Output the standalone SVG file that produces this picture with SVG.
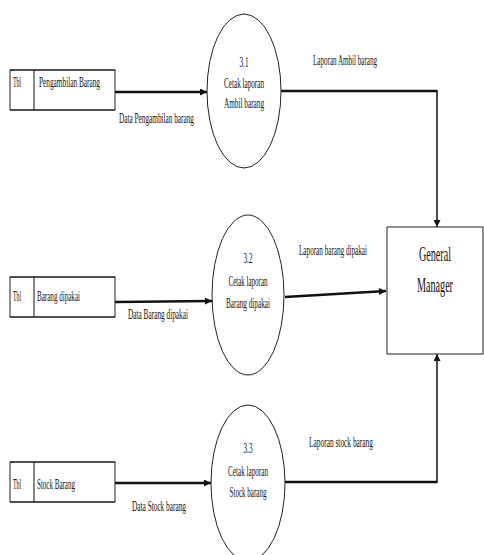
<svg xmlns="http://www.w3.org/2000/svg" width="484" height="555" viewBox="0 0 484 555">
<defs>
<style>
text{font-family:"Liberation Serif","Times New Roman",serif;fill:#111;}
.t{font-size:14px;}
.e{font-size:15px;text-anchor:middle;}
.gm{font-size:20px;}
.proc{fill:#fff;stroke:#222;stroke-width:1;}
.store{fill:#fff;stroke:#222;stroke-width:1;}
.edge{stroke:#111;stroke-width:1;}
.flow{stroke:#111;stroke-width:2.4;fill:none;}
.vflow{stroke:#111;stroke-width:1.5;fill:none;}
</style>
<marker id="ah" viewBox="0 0 10 10" refX="10" refY="5" markerWidth="9" markerHeight="7" markerUnits="userSpaceOnUse" orient="auto">
<path d="M0,0 L10,5 L0,10 z" fill="#111"/>
</marker>
</defs>
<rect width="484" height="555" fill="#fff"/>

<g id="connectors">
<line class="flow" x1="115" y1="92" x2="207" y2="92" marker-end="url(#ah)"/>
<line class="flow" x1="115" y1="302" x2="212" y2="301" marker-end="url(#ah)"/>
<line class="flow" x1="115" y1="483" x2="211" y2="483" marker-end="url(#ah)"/>
<polyline class="flow" points="281,91 437,91"/>
<line class="vflow" x1="437" y1="90" x2="437" y2="227" marker-end="url(#ah)"/>
<line class="flow" x1="285" y1="297" x2="386" y2="291" marker-end="url(#ah)"/>
<polyline class="flow" points="285,482 437,482"/>
<line class="vflow" x1="437" y1="483" x2="437" y2="354" marker-end="url(#ah)"/>
<text class="t" x="313" y="65" textLength="64" lengthAdjust="spacingAndGlyphs">Laporan Ambil barang</text>
<text class="t" transform="translate(299,255) scale(0.5,1)" x="0" y="0" textLength="136" lengthAdjust="spacingAndGlyphs">Laporan barang dipakai</text>
<text class="t" x="309" y="447" textLength="64" lengthAdjust="spacingAndGlyphs">Laporan stock  barang</text>
<text class="t" x="119" y="123" textLength="75" lengthAdjust="spacingAndGlyphs">Data Pengambilan barang</text>
<text class="t" x="128" y="319" textLength="60" lengthAdjust="spacingAndGlyphs">Data Barang dipakai</text>
<text class="t" x="132" y="511" textLength="54" lengthAdjust="spacingAndGlyphs">Data Stock barang</text>
</g>

<g id="store1">
<rect class="store" x="10" y="70" width="105" height="40"/>
<line class="edge" x1="10" y1="70" x2="115" y2="70" stroke-width="2"/>
<line class="edge" x1="10" y1="110" x2="115" y2="110" stroke-width="2"/>
<line class="edge" x1="34" y1="70" x2="34" y2="110"/>
<text class="t" x="13" y="87" textLength="8" lengthAdjust="spacingAndGlyphs">Tbl</text>
<text class="t" x="39" y="87" textLength="61" lengthAdjust="spacingAndGlyphs">Pengambilan  Barang</text>
</g>

<g id="store2">
<rect class="store" x="10" y="277" width="105" height="40"/>
<line class="edge" x1="10" y1="277" x2="115" y2="277" stroke-width="2"/>
<line class="edge" x1="10" y1="317" x2="115" y2="317" stroke-width="2"/>
<line class="edge" x1="34" y1="277" x2="34" y2="317"/>
<text class="t" x="13" y="301" textLength="8" lengthAdjust="spacingAndGlyphs">Tbl</text>
<text class="t" x="37" y="301" textLength="43" lengthAdjust="spacingAndGlyphs">Barang dipakai</text>
</g>

<g id="store3">
<rect class="store" x="10" y="462" width="105" height="40"/>
<line class="edge" x1="10" y1="462" x2="115" y2="462" stroke-width="2"/>
<line class="edge" x1="10" y1="502" x2="115" y2="502" stroke-width="2"/>
<line class="edge" x1="34" y1="462" x2="34" y2="502"/>
<text class="t" x="13" y="489" textLength="8" lengthAdjust="spacingAndGlyphs">Tbl</text>
<text class="t" x="37" y="489" textLength="38" lengthAdjust="spacingAndGlyphs">Stock Barang</text>
</g>

<g id="p31">
<ellipse class="proc" cx="244" cy="91" rx="37" ry="77"/>
<text class="e" x="244" y="67" textLength="9" lengthAdjust="spacingAndGlyphs">3.1</text>
<text class="e" x="244" y="88" textLength="40" lengthAdjust="spacingAndGlyphs">Cetak laporan</text>
<text class="e" x="244" y="108" textLength="40" lengthAdjust="spacingAndGlyphs">Ambil barang</text>
</g>

<g id="p32">
<ellipse class="proc" cx="248" cy="295" rx="36" ry="80"/>
<text class="e" x="248" y="263" textLength="9" lengthAdjust="spacingAndGlyphs">3.2</text>
<text class="e" x="248" y="286" textLength="39" lengthAdjust="spacingAndGlyphs">Cetak laporan</text>
<text class="e" x="248" y="308" textLength="44" lengthAdjust="spacingAndGlyphs">Barang dipakai</text>
</g>

<g id="p33">
<ellipse class="proc" cx="248" cy="483" rx="37" ry="78"/>
<text class="e" x="248" y="453" textLength="9" lengthAdjust="spacingAndGlyphs">3.3</text>
<text class="e" x="248" y="476" textLength="40" lengthAdjust="spacingAndGlyphs">Cetak laporan</text>
<text class="e" x="248" y="497" textLength="37" lengthAdjust="spacingAndGlyphs">Stock barang</text>
</g>

<g id="gm">
<rect class="proc" x="387" y="227" width="96" height="127"/>
<text class="gm" transform="translate(419,261) scale(0.5,1)" x="0" y="0" textLength="64" lengthAdjust="spacingAndGlyphs">General</text>
<text class="gm" transform="translate(417,292) scale(0.5,1)" x="0" y="0" textLength="72" lengthAdjust="spacingAndGlyphs">Manager</text>
</g>
</svg>
